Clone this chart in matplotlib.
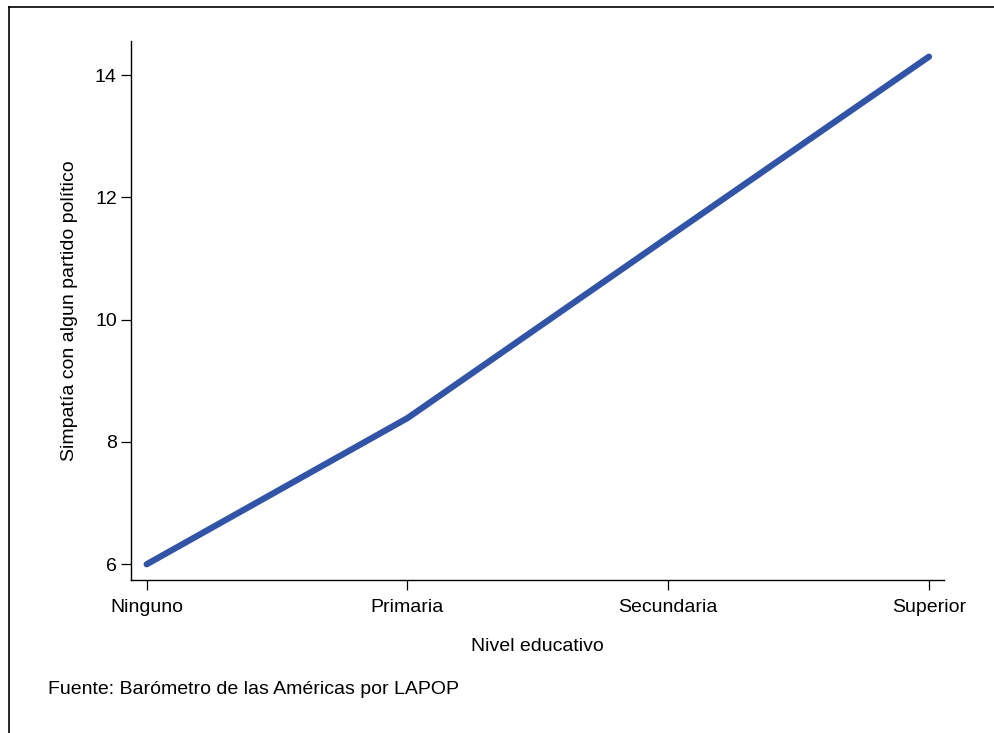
import matplotlib
matplotlib.use("Agg")
import matplotlib.pyplot as plt
from matplotlib.lines import Line2D

categories = ["Ninguno", "Primaria", "Secundaria", "Superior"]
values = [6.0, 8.39, 11.35, 14.30]
yticks = [6, 8, 10, 12, 14]

plt.rcParams['font.family'] = ['Liberation Sans', 'DejaVu Sans']

W, H = 995, 733
fs = 14
fig = plt.figure(figsize=(W/100, H/100), dpi=100)
ax = fig.add_axes([131/W, 1-580/H, (944-131)/W, (580-41)/H])

x = list(range(len(categories)))
ax.plot(x, values, color='#3154a6', lw=4.5, solid_capstyle='round', solid_joinstyle='round')
ax.set_xlim(-0.06, 3.0575)
ax.set_ylim(5.743, 14.556)
ax.set_xticks(x)
ax.set_xticklabels(categories, fontsize=fs)
ax.set_yticks(yticks)
ax.set_yticklabels([str(t) for t in yticks], fontsize=fs)
for s in ['top', 'right']:
    ax.spines[s].set_visible(False)
for s in ['left', 'bottom']:
    ax.spines[s].set_linewidth(1.0)
ax.tick_params(direction='out', length=7.2, width=0.9)
ax.tick_params(axis='x', pad=6.5)
ax.tick_params(axis='y', pad=3)
ax.set_xlabel("Nivel educativo", fontsize=fs, labelpad=16)
ax.set_ylabel("Simpatía con algun partido político", fontsize=fs, labelpad=12)

fig.text(48/W, 1-689/H, "Fuente: Barómetro de las Américas por LAPOP", fontsize=fs, va='center', ha='left')

# figure frame (left and top edges)
fig.add_artist(Line2D([9/W, 9/W], [0, 1-7/H], transform=fig.transFigure, color='black', lw=1.2))
fig.add_artist(Line2D([9/W, 1], [1-7/H, 1-7/H], transform=fig.transFigure, color='black', lw=1.2))

fig.savefig("out.png", dpi=100)
